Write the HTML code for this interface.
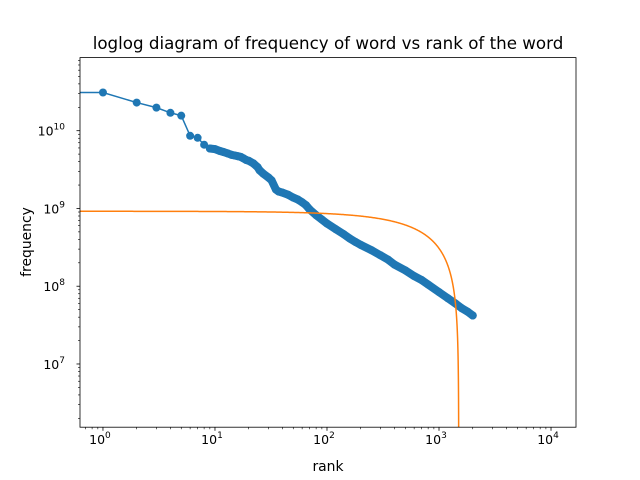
<!DOCTYPE html>
<html><head><meta charset="utf-8"><style>
html,body{margin:0;padding:0;background:#fff;width:640px;height:480px;overflow:hidden}
svg{display:block;font-family:"DejaVu Sans","Liberation Sans",sans-serif}
</style></head><body>
<svg id="chart" width="640" height="480" viewBox="0 0 640 480">
<rect width="640" height="480" fill="#fff"/>
<text x="328" y="49" text-anchor="middle" font-size="16.7">loglog diagram of frequency of word vs rank of the word</text>
<g id="plot"></g>
<rect x="80" y="57.6" width="496" height="369.6" fill="none" stroke="#000" stroke-width="0.8"/>
<g id="axes"></g>
<text x="328" y="471" text-anchor="middle" font-size="13.9">rank</text>
<text transform="translate(31,242) rotate(-90)" text-anchor="middle" font-size="13.9">frequency</text>
</svg>
<script>
const ranks=[1,2,3,4,5,6,7,8,9,10,11,12,13,14,15,16,17,18,19,20,22,24,25,27,30,32,35,37,40,45,50,55,60,65,70,80,90,100,120,140,160,180,200,250,300,350,400,500,600,700,800,1000,1200,1400,1600,1800,2000];
const freqs=[3.1e10,2.3e10,1.98e10,1.7e10,1.56e10,8.6e9,8.1e9,6.6e9,5.9e9,5.8e9,5.5e9,5.3e9,5.1e9,4.9e9,4.8e9,4.7e9,4.6e9,4.4e9,4.2e9,4.1e9,3.8e9,3.4e9,3.1e9,2.8e9,2.5e9,2.3e9,1.75e9,1.65e9,1.6e9,1.5e9,1.38e9,1.3e9,1.2e9,1.1e9,9.7e8,8.2e8,7.2e8,6.4e8,5.4e8,4.7e8,4.1e8,3.7e8,3.4e8,2.9e8,2.5e8,2.2e8,1.9e8,1.6e8,1.35e8,1.2e8,1.05e8,8.4e7,7e7,6e7,5.2e7,4.7e7,4.2e7];
const fitScale=9.2e8;
const fitCutoff=1500;
const xTickExps=[0,1,2,3,4];
const yTickExps=[7,8,9,10];
const X0=80,X1=576,Y0=57.6,Y1=427.2;
const xmin=-0.205,xmax=4.223,ymin=6.187,ymax=10.94;
const sx=v=>X0+(Math.log10(v)-xmin)/(xmax-xmin)*(X1-X0);
const sy=v=>Y1-(Math.log10(v)-ymin)/(ymax-ymin)*(Y1-Y0);
const NS="http://www.w3.org/2000/svg";
const plot=document.getElementById('plot'),axes=document.getElementById('axes');
function mk(t,a,p){const e=document.createElementNS(NS,t);for(const k in a)e.setAttribute(k,a[k]);p.appendChild(e);return e;}
const clip=mk('clipPath',{id:'cp'},plot);mk('rect',{x:X0,y:Y0,width:X1-X0,height:Y1-Y0},clip);
const g=mk('g',{'clip-path':'url(#cp)'},plot);
let d=`M${X0} ${sy(freqs[0])}`;ranks.forEach((r,i)=>d+=` L${sx(r)} ${sy(freqs[i])}`);
const ln=mk('path',{d,fill:'none',stroke:'#1f77b4','stroke-width':1.5},g);


let d2='';ranks.forEach((r,i)=>{if(r>=9)d2+=(d2?' L':'M')+sx(r)+' '+sy(freqs[i]);});
const band=mk('path',{d:d2,fill:'none',stroke:'#1f77b4','stroke-width':8,'stroke-linecap':'round','stroke-linejoin':'round'},g);


ranks.forEach((r,i)=>{const c=mk('circle',{cx:sx(r),cy:sy(freqs[i]),r:4,fill:'#1f77b4'},g);

});
let d3='';
for(let k=0;k<=600;k++){const lx=xmin+(Math.log10(fitCutoff)-xmin)*(1-Math.pow(1-k/600,3));const r=Math.pow(10,lx);let v=fitScale*(1-r/fitCutoff);if(v<1e5)v=1e5;d3+=(k?' L':'M')+sx(r).toFixed(2)+' '+sy(v).toFixed(2);}
const fit=mk('path',{d:d3,fill:'none',stroke:'#ff7f0e','stroke-width':1.5},g);


for(let e=-1;e<=4;e++)for(let m=1;m<10;m++){const v=m*Math.pow(10,e);const x=sx(v);if(x<X0-0.1||x>X1+0.1)continue;
mk('line',{x1:x,x2:x,y1:Y1,y2:Y1+(m==1?3.5:2),stroke:'#000','stroke-width':m==1?0.8:0.6},axes);}
for(let e=6;e<=10;e++)for(let m=1;m<10;m++){const v=m*Math.pow(10,e);const y=sy(v);if(y<Y0-0.1||y>Y1+0.1)continue;
mk('line',{x1:X0,x2:X0-(m==1?3.5:2),y1:y,y2:y,stroke:'#000','stroke-width':m==1?0.8:0.6},axes);}
xTickExps.forEach(e=>{const t=mk('text',{x:sx(Math.pow(10,e))-3,y:Y1+17,'text-anchor':'middle','font-size':12.5},axes);


t.textContent='10';const s=mk('tspan',{dy:-6,'font-size':9},t);s.textContent=e;});
yTickExps.forEach(e=>{const t=mk('text',{x:X0-15,y:sy(Math.pow(10,e))+5,'text-anchor':'end','font-size':12.5},axes);


t.textContent='10';const s=mk('tspan',{dy:-6,'font-size':9},t);s.textContent=e;});
</script>
</body></html>
